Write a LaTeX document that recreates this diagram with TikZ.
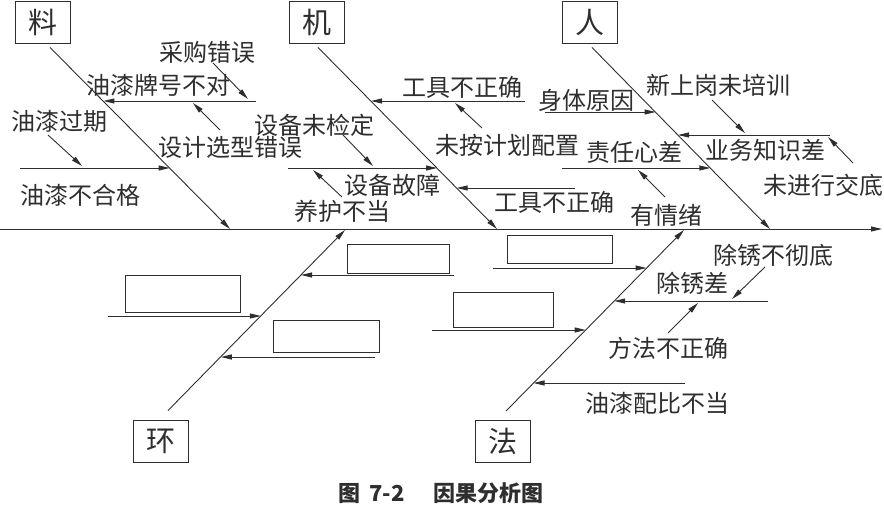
\documentclass[tikz,border=0pt]{standalone}
\usepackage{fontspec}
\setmainfont{Noto Sans CJK SC}
\usepackage{xcolor}
\usepackage{tikz}
\usetikzlibrary{arrows.meta,positioning}

\definecolor{ink}{gray}{0.18}

\tikzset{
  bone/.style={draw=ink, line width=0.9pt, -{Triangle[length=11pt,width=5pt]}},
  catbox/.style={draw=ink, line width=0.9pt, minimum width=55pt, minimum height=42pt,
    inner sep=0pt, text=ink, font=\fontsize{29}{32}\selectfont},
  cause/.style={inner sep=0pt, text=ink, font=\fontsize{24}{28}\selectfont},
  blank/.style={draw=ink, line width=0.9pt, inner sep=0pt}
}

\begin{document}
\begin{tikzpicture}[x=1pt,y=-1pt]
    \useasboundingbox (0,0) rectangle (884,506);

    % Spine
    \coordinate (tail) at (0,229);
    \coordinate (head) at (882,229);
    \draw[bone] (tail) -- (head);

    % Category boxes
    \node[catbox] (liao) at (43,22) {料};
    \node[catbox] (ji) at (316.5,22) {机};
    \node[catbox] (ren) at (589.5,22) {人};
    \node[catbox] (huan) at (161,441) {环};
    \node[catbox] (fa) at (502.5,441.5) {法};

    % Main bones
    \coordinate (liaoE) at (230,229);
    \coordinate (jiE) at (497,229);
    \coordinate (renE) at (770,229);
    \coordinate (huanE) at (345,230);
    \coordinate (faE) at (684,230);
    \draw[bone] ([xshift=7pt,yshift=-4pt]liao.south) -- (liaoE);
    \draw[bone] ([xshift=1.5pt,yshift=-4pt]ji.south) -- (jiE);
    \draw[bone] ([xshift=2.5pt,yshift=-4pt]ren.south) -- (renE);
    \draw[bone] ([xshift=7pt,yshift=9pt]huan.north) -- (huanE);
    \draw[bone] ([xshift=3.5pt,yshift=9pt]fa.north) -- (faE);

    % Liao branch
    \node[cause] (caigou) at (207,52) {采购错误};
    \node[cause] (paihao) at (158,85) {油漆牌号不对};
    \node[cause] (xuanxing) at (230,147) {设计选型错误};
    \node[cause] (guoqi) at (60,121) {油漆过期};
    \node[cause] (buhege) at (80,195) {油漆不合格};
    \coordinate (l1a) at (256,101); \coordinate (l1b) at (103.4,101);
    \coordinate (l2a) at (20,168); \coordinate (l2b) at (169.7,168);
    \draw[bone] (l1a) -- (l1b);
    \draw[bone] (l2a) -- (l2b);
    \coordinate (s1a) at (213,63); \coordinate (s1b) at (248,99);
    \coordinate (s2a) at (220,130); \coordinate (s2b) at (193,103);
    \coordinate (s3a) at (48,135); \coordinate (s3b) at (82,166);
    \draw[bone] (s1a) -- (s1b);
    \draw[bone] (s2a) -- (s2b);
    \draw[bone] (s3a) -- (s3b);

    % Ji branch
    \node[cause] (gongju) at (462,87) {工具不正确};
    \node[cause] (peizhi) at (507,145) {未按计划配置};
    \node[cause] (jianding) at (314,125) {设备未检定};
    \node[cause] (guzhang) at (392,185) {设备故障};
    \node[cause] (yanghu) at (342,211) {养护不当};
    \node[cause] (gongjuB) at (554,202) {工具不正确};
    \coordinate (l3a) at (525,101); \coordinate (l3b) at (371,101);
    \coordinate (l4a) at (288,168); \coordinate (l4b) at (437,168);
    \coordinate (l5a) at (575,188); \coordinate (l5b) at (456.7,188);
    \draw[bone] (l3a) -- (l3b);
    \draw[bone] (l4a) -- (l4b);
    \draw[bone] (l5a) -- (l5b);
    \coordinate (s4a) at (482,128); \coordinate (s4b) at (455,103);
    \coordinate (s5a) at (343,135); \coordinate (s5b) at (373,166);
    \coordinate (s6a) at (342,197); \coordinate (s6b) at (313,170);
    \draw[bone] (s4a) -- (s4b);
    \draw[bone] (s5a) -- (s5b);
    \draw[bone] (s6a) -- (s6b);

    % Ren branch
    \node[cause] (shenti) at (586,100) {身体原因};
    \node[cause] (peixun) at (718,85) {新上岗未培训};
    \node[cause] (zhishi) at (765,150) {业务知识差};
    \node[cause] (jiaodi) at (823,185) {未进行交底};
    \node[cause] (zeren) at (634,152) {责任心差};
    \node[cause] (qingxu) at (666,215) {有情绪};
    \coordinate (l6a) at (545,112); \coordinate (l6b) at (655.6,112);
    \coordinate (l7a) at (830,135); \coordinate (l7b) at (678,135);
    \coordinate (l8a) at (562,168); \coordinate (l8b) at (710.3,168);
    \draw[bone] (l6a) -- (l6b);
    \draw[bone] (l7a) -- (l7b);
    \draw[bone] (l8a) -- (l8b);
    \coordinate (s7a) at (712,100); \coordinate (s7b) at (745,133);
    \coordinate (s8a) at (853,163); \coordinate (s8b) at (828,137);
    \coordinate (s9a) at (665,197); \coordinate (s9b) at (638,170);
    \draw[bone] (s7a) -- (s7b);
    \draw[bone] (s8a) -- (s8b);
    \draw[bone] (s9a) -- (s9b);

    % Huan branch (empty boxes)
    \node[blank, minimum width=102pt, minimum height=29pt] (hb1) at (398,258.5) {};
    \node[blank, minimum width=115pt, minimum height=37pt] (hb2) at (182.5,293.5) {};
    \node[blank, minimum width=106pt, minimum height=32pt] (hb3) at (326,336) {};
    \coordinate (l9a) at (454,275); \coordinate (l9b) at (301,275);
    \coordinate (l10a) at (108,316); \coordinate (l10b) at (260.9,316);
    \coordinate (l11a) at (375,357); \coordinate (l11b) at (220.8,357);
    \draw[bone] (l9a) -- (l9b);
    \draw[bone] (l10a) -- (l10b);
    \draw[bone] (l11a) -- (l11b);

    % Fa branch
    \node[blank, minimum width=105pt, minimum height=28pt] (fb1) at (559.5,249) {};
    \node[blank, minimum width=100pt, minimum height=35pt] (fb2) at (503,309.5) {};
    \node[cause] (chexiu) at (773,255) {除锈不彻底};
    \node[cause] (chuxiu) at (692,283) {除锈差};
    \node[cause] (fangfa) at (668,348) {方法不正确};
    \node[cause] (peibi) at (657,403) {油漆配比不当};
    \coordinate (l12a) at (493,268); \coordinate (l12b) at (646.6,268);
    \coordinate (l13a) at (432,330); \coordinate (l13b) at (585.7,330);
    \coordinate (l14a) at (768,301); \coordinate (l14b) at (614.2,301);
    \coordinate (l15a) at (685,383); \coordinate (l15b) at (533.5,383);
    \draw[bone] (l12a) -- (l12b);
    \draw[bone] (l13a) -- (l13b);
    \draw[bone] (l14a) -- (l14b);
    \draw[bone] (l15a) -- (l15b);
    \coordinate (s10a) at (765,267); \coordinate (s10b) at (732,299);
    \coordinate (s11a) at (668,333); \coordinate (s11b) at (698,303);
    \draw[bone] (s10a) -- (s10b);
    \draw[bone] (s11a) -- (s11b);

    % Caption
    \node[text=ink, font=\bfseries\fontsize{22}{26}\selectfont] (cap) at (441,493)
        {图\hspace{0.4em}7-2\hspace{1.3em}因果分析图};
\end{tikzpicture}
\end{document}
